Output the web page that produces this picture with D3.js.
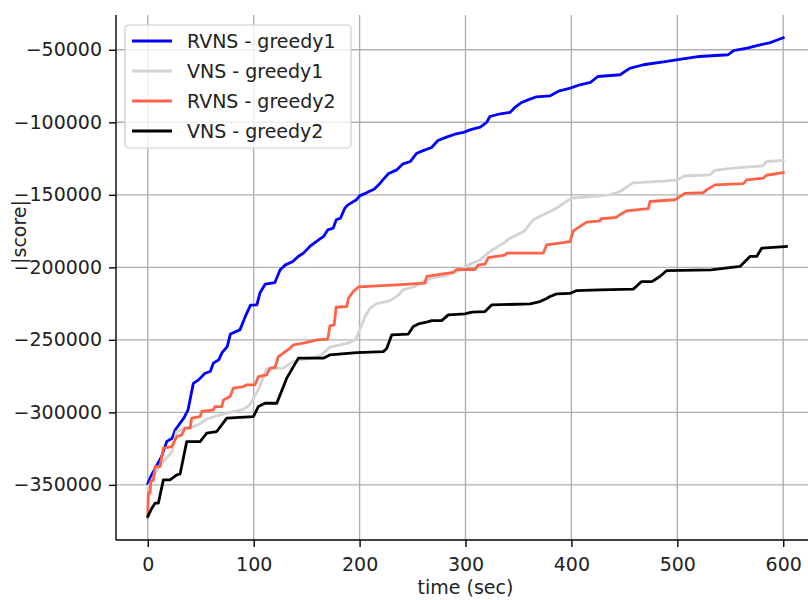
<!DOCTYPE html>
<html>
<head>
<meta charset="utf-8">
<title>score over time</title>
<script src="https://d3js.org/d3.v7.min.js"></script>
<style>
  html, body { margin: 0; padding: 0; background: #fff; }
  svg { display: block; font-family: "DejaVu Sans", sans-serif; }
  .grid line { stroke: #b0b0b0; stroke-width: 1.4px; }
  .tick-label { font-size: 19px; fill: #222; }
  .series { fill: none; stroke-width: 2.8px; stroke-linejoin: round; stroke-linecap: square; }
</style>
</head>
<body>
<script>
// [time (sec), score] samples for each run
var rvnsGreedy1 = [[0,-349000],[3,-344000],[7,-338500],[13,-330500],[18,-320000],[23,-317800],[26,-312000],[34,-304000],[38,-298300],[43,-280000],[48,-277600],[54,-273000],[59,-271800],[62,-266000],[67,-263800],[70,-259000],[75,-254600],[78,-246000],[87,-243100],[92,-234000],[97,-226000],[103,-225900],[106,-217500],[111,-211500],[120,-210500],[125,-201700],[130,-198300],[137,-196000],[142,-192500],[147,-190200],[153,-185600],[159,-182200],[166,-178700],[170,-174100],[175,-173000],[178,-167200],[182,-166100],[186,-159200],[189,-156900],[197,-153400],[200,-150700],[206,-148800],[214,-146000],[218,-143100],[222,-139700],[227,-135500],[235,-132800],[241,-128600],[248,-127000],[254,-121300],[260,-119500],[268,-117400],[274,-112500],[282,-110200],[290,-108200],[298,-107000],[304,-105200],[314,-103300],[320,-100100],[323,-96000],[333,-94100],[342,-93200],[347,-89500],[353,-86300],[359,-84500],[367,-82400],[380,-81700],[388,-78500],[399,-76400],[408,-74100],[418,-72500],[425,-68400],[446,-67200],[455,-62800],[468,-60300],[490,-58000],[499,-56900],[521,-54600],[548,-53400],[553,-50500],[566,-48800],[578,-46600],[588,-45000],[600,-41700]];

var vnsGreedy1 = [[0,-352000],[5,-345000],[10,-338000],[16,-332800],[23,-327000],[27,-313500],[35,-311000],[43,-309800],[49,-308000],[56,-304500],[65,-302400],[72,-301000],[81,-299400],[90,-298000],[96,-295000],[100,-290000],[104,-285000],[108,-278000],[112,-270000],[128,-269500],[137,-265000],[163,-261000],[172,-255000],[189,-252300],[196,-250000],[199,-245000],[205,-234000],[210,-228100],[216,-225000],[229,-223000],[237,-219000],[241,-215500],[251,-213500],[260,-209800],[267,-207400],[279,-206300],[292,-202900],[303,-198300],[314,-194800],[323,-189100],[336,-183300],[342,-179900],[355,-175300],[364,-167200],[370,-165000],[386,-159200],[400,-152300],[419,-151200],[436,-150000],[446,-147700],[458,-141700],[487,-140500],[500,-139700],[507,-137000],[531,-136200],[535,-133200],[553,-131600],[581,-130000],[584,-127000],[600,-126300]];

var rvnsGreedy2 = [[0,-370700],[0.5,-355700],[2.2,-355700],[2.8,-347700],[5.3,-346600],[6.9,-337400],[11.6,-337400],[14.7,-324700],[22.6,-323600],[27.4,-316700],[32.1,-315500],[35.2,-310900],[39.9,-310900],[41.5,-304000],[49.4,-302900],[51,-299400],[62,-298300],[63.5,-296000],[69.9,-296000],[71.4,-291400],[77.7,-289100],[80.8,-283300],[90.3,-282200],[93.5,-281000],[101.3,-281000],[104.4,-275300],[112.3,-274100],[115.5,-269500],[120.2,-269000],[123.3,-261500],[128,-259200],[134.3,-255700],[137.5,-253500],[146.9,-252300],[160,-250000],[170,-249500],[172,-240300],[176,-239700],[177.8,-227500],[187.9,-227000],[189.4,-221500],[194,-216700],[198.9,-213500],[235,-212100],[261.8,-210900],[263.4,-206300],[288.5,-203500],[291.7,-201500],[309,-201500],[312.1,-198300],[318.4,-197800],[321.5,-193300],[337.3,-191500],[339,-190200],[373.4,-190200],[376.7,-184500],[398.7,-182200],[401.8,-174800],[414.4,-168800],[427,-168000],[428,-166500],[442.7,-165500],[444,-164500],[452.2,-161000],[472.6,-159500],[474.2,-154600],[497.8,-153400],[502.5,-151200],[507,-149000],[524.5,-148500],[527.7,-146600],[535.5,-143100],[562.3,-142300],[565.5,-139700],[581.2,-138500],[584.3,-136500],[600,-134600]];

var vnsGreedy2 = [[0,-371900],[3.8,-366100],[6.9,-362600],[10,-362600],[14.7,-346600],[21,-346600],[27.4,-343100],[30.5,-342500],[36.8,-320100],[49.4,-320100],[55.7,-314300],[65.1,-313200],[74.6,-304000],[99.7,-302900],[104.4,-296000],[110.7,-293700],[121.8,-293700],[131.2,-276400],[142.2,-262600],[165.8,-262600],[172.1,-260300],[197.3,-258800],[222.4,-258100],[225.6,-256000],[230.3,-246600],[246,-246000],[250.7,-240800],[255.5,-239000],[263.4,-237800],[268.1,-236700],[277.5,-236700],[283.8,-232800],[299.5,-232100],[305.9,-230900],[318.4,-230500],[324.7,-225900],[361,-225200],[370.3,-223600],[376.7,-221500],[379.8,-220100],[386.1,-218300],[398.7,-218000],[405,-216000],[427,-215500],[458.4,-215000],[466.3,-209800],[476,-209800],[483.6,-206300],[490,-202200],[532,-201700],[559.2,-199400],[568.6,-192500],[575,-192500],[579.6,-186800],[603,-185600]];

var seriesNames = ["RVNS - greedy1", "VNS - greedy1", "RVNS - greedy2", "VNS - greedy2"];
var seriesColors = ["blue", "lightgray", "tomato", "black"];
var xTicks = [0, 100, 200, 300, 400, 500, 600];
var yTicks = [-350000, -300000, -250000, -200000, -150000, -100000, -50000];

var width = 808, height = 600;
var plot = {left: 116, right: 815, top: 15, bottom: 540};

var svg = d3.select("body").append("svg")
    .attr("width", width)
    .attr("height", height);

var x = d3.scaleLinear().domain([-30, 630]).range([plot.left, plot.right]);
var y = d3.scaleLinear().domain([-388000, -26000]).range([plot.bottom, plot.top]);

svg.append("clipPath").attr("id", "plot-clip")
  .append("rect")
    .attr("x", plot.left).attr("y", plot.top)
    .attr("width", plot.right - plot.left)
    .attr("height", plot.bottom - plot.top);

// grid
var grid = svg.append("g").attr("class", "grid");
grid.selectAll("line.v").data(xTicks).enter().append("line")
    .attr("class", "v")
    .attr("x1", function(d) { return x(d); }).attr("x2", function(d) { return x(d); })
    .attr("y1", plot.top).attr("y2", plot.bottom);
grid.selectAll("line.h").data(yTicks).enter().append("line")
    .attr("class", "h")
    .attr("x1", plot.left).attr("x2", plot.right)
    .attr("y1", function(d) { return y(d); }).attr("y2", function(d) { return y(d); });

// lines
var line = d3.line()
    .x(function(d) { return x(d[0]); })
    .y(function(d) { return y(d[1]); });

var allSeries = [rvnsGreedy1, vnsGreedy1, rvnsGreedy2, vnsGreedy2];
svg.append("g").attr("clip-path", "url(#plot-clip)")
  .selectAll("path").data(allSeries).enter().append("path")
    .attr("class", "series")
    .attr("stroke", function(d, i) { return seriesColors[i]; })
    .attr("d", line);

// axes, only left and bottom spines
var xAxis = d3.axisBottom(x).tickValues(xTicks).tickSize(7).tickPadding(6).tickFormat(d3.format("d"));
var yAxis = d3.axisLeft(y).tickValues(yTicks).tickSize(7).tickPadding(7).tickFormat(d3.format("d"));

var gx = svg.append("g").attr("transform", "translate(0," + plot.bottom + ")").call(xAxis);
var gy = svg.append("g").attr("transform", "translate(" + plot.left + ",0)").call(yAxis);

[gx, gy].forEach(function(g) {
  g.select(".domain").attr("stroke", "#000").attr("stroke-width", 1.4);
  g.selectAll(".tick line").attr("stroke", "#000").attr("stroke-width", 1.4);
  g.selectAll(".tick text")
    .attr("class", "tick-label")
    .attr("font-family", "DejaVu Sans, sans-serif")
    .attr("font-size", null)
    .attr("fill", "#222");
});
gx.select(".domain").attr("d", "M" + plot.left + ",0H" + plot.right);
gy.select(".domain").attr("d", "M0," + plot.top + "V" + plot.bottom);
gx.selectAll(".tick text").attr("dy", "0.93em");

// axis titles
svg.append("text")
    .attr("x", (plot.left + plot.right) / 2)
    .attr("y", 594)
    .attr("text-anchor", "middle")
    .attr("font-size", "19px")
    .attr("fill", "#222")
    .text("time (sec)");

svg.append("text")
    .attr("transform", "translate(26,232) rotate(-90)")
    .attr("text-anchor", "middle")
    .attr("font-size", "19px")
    .attr("fill", "#222")
    .text("|score|");

// legend
var legend = svg.append("g").attr("transform", "translate(125,25)");
legend.append("rect")
    .attr("width", 226).attr("height", 123)
    .attr("rx", 4)
    .attr("fill", "#fff").attr("fill-opacity", 0.8)
    .attr("stroke", "#cccccc").attr("stroke-width", 1.2);

var items = legend.selectAll("g.item").data(seriesNames).enter().append("g")
    .attr("class", "item")
    .attr("transform", function(d, i) { return "translate(0," + (16 + i * 30) + ")"; });
items.append("line")
    .attr("x1", 7).attr("x2", 47)
    .attr("stroke", function(d, i) { return seriesColors[i]; })
    .attr("stroke-width", 2.8);
items.append("text")
    .attr("x", 62).attr("y", 6.5)
    .attr("font-size", "19px")
    .attr("fill", "#222")
    .text(function(d) { return d; });
</script>
</body>
</html>
